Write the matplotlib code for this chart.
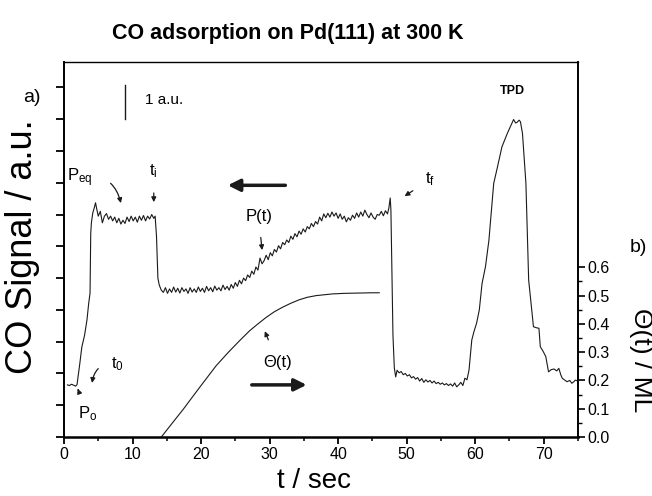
import numpy as np
import matplotlib
matplotlib.use('Agg')
import matplotlib.pyplot as plt
from matplotlib import font_manager

# CO signal (a.u., left axis) versus time (s)
t_signal = [0.5, 0.8, 1.1, 1.4, 1.7, 1.9, 2.3, 2.6, 3.0, 3.35, 3.6, 3.8, 3.85, 3.9, 4.0, 4.2, 4.4, 4.6,
            4.8, 5.0, 5.3, 5.6, 5.9, 6.2, 6.5, 6.8, 7.1, 7.4, 7.7, 8.0, 8.3, 8.6, 8.9, 9.2, 9.5,
            9.8, 10.1, 10.4, 10.7, 11.0, 11.3, 11.6, 11.9, 12.2, 12.5, 12.8, 13.1, 13.3, 13.5,
            13.7, 13.9, 14.2, 14.5, 14.8, 15.1, 15.4, 15.7, 16.0, 16.3, 16.6, 16.9, 17.2, 17.5,
            17.8, 18.1, 18.4, 18.7, 19.0, 19.3, 19.6, 19.9, 20.2, 20.5, 20.8, 21.1, 21.4, 21.7,
            22.0, 22.3, 22.6, 22.9, 23.2, 23.5, 23.8, 24.1, 24.4, 24.7, 25.0, 25.3, 25.6, 25.9,
            26.2, 26.5, 26.8, 27.1, 27.4, 27.7, 28.0, 28.3, 28.6, 28.9, 29.2, 29.5, 29.8, 30.1,
            30.4, 30.7, 31.0, 31.3, 31.6, 31.9, 32.2, 32.5, 32.8, 33.1, 33.4, 33.7, 34.0, 34.3,
            34.6, 34.9, 35.2, 35.5, 35.8, 36.1, 36.4, 36.7, 37.0, 37.3, 37.6, 37.9, 38.2, 38.5,
            38.8, 39.1, 39.4, 39.7, 40.0, 40.3, 40.6, 40.9, 41.2, 41.5, 41.8, 42.1, 42.4, 42.7,
            43.0, 43.3, 43.6, 43.9, 44.2, 44.5, 44.8, 45.1, 45.4, 45.7, 46.0, 46.3, 46.6, 46.9,
            47.2, 47.4, 47.6, 47.7, 47.85, 48.0, 48.2, 48.4, 48.6, 48.9, 49.2, 49.5, 49.8, 50.1,
            50.4, 50.7, 51.0, 51.3, 51.6, 51.9, 52.2, 52.5, 52.8, 53.1, 53.4, 53.7, 54.0, 54.3,
            54.6, 54.9, 55.2, 55.5, 55.8, 56.1, 56.4, 56.7, 57.0, 57.3, 57.6, 57.9, 58.2, 58.5,
            58.8, 59.1, 59.5, 59.8, 60.2, 60.6, 61.0, 61.5, 62.0, 62.7, 63.2, 63.9, 64.7, 65.2,
            65.6, 65.9, 66.1, 66.4, 66.6, 66.9, 67.4, 67.8, 68.0, 68.5, 68.9, 69.3, 69.5, 69.9,
            70.3, 70.7, 71.1, 71.5, 71.9, 72.2, 72.5, 72.7, 73.0, 73.4, 73.8, 74.1, 74.4, 74.6, 75.0]
co_signal = [1.64, 1.62, 1.66, 1.63, 1.60, 1.65, 2.30, 2.83, 3.20, 3.68, 4.20, 4.53, 5.40, 6.40, 6.75, 7.05, 7.20, 7.37,
             7.15, 6.95, 7.10, 6.74, 6.95, 7.03, 6.85, 6.95, 6.80, 6.92, 6.74, 6.88, 6.70, 6.82, 6.72, 6.92, 6.78,
             6.95, 6.80, 6.92, 6.76, 6.95, 6.82, 6.97, 6.80, 6.95, 6.86, 7.00, 6.88, 6.95, 6.30,
             5.00, 4.78, 4.62, 4.55, 4.70, 4.52, 4.66, 4.55, 4.72, 4.56, 4.68, 4.53, 4.70, 4.58,
             4.66, 4.52, 4.70, 4.56, 4.66, 4.55, 4.72, 4.58, 4.68, 4.55, 4.74, 4.60, 4.70, 4.57,
             4.75, 4.62, 4.70, 4.60, 4.78, 4.64, 4.74, 4.62, 4.80, 4.68, 4.86, 4.74, 4.93, 4.82,
             5.00, 4.92, 5.10, 5.02, 5.22, 5.12, 5.35, 5.25, 5.63, 5.45, 5.55, 5.72, 5.58, 5.80,
             5.70, 5.90, 5.82, 6.02, 5.92, 6.12, 6.05, 6.20, 6.12, 6.32, 6.22, 6.40, 6.30, 6.48,
             6.38, 6.55, 6.45, 6.62, 6.55, 6.72, 6.62, 6.78, 6.70, 6.92, 6.80, 7.02, 6.90, 7.04,
             6.92, 7.08, 6.95, 7.05, 6.88, 7.02, 6.85, 6.95, 6.77, 6.90, 6.82, 6.98, 6.88, 7.05,
             6.92, 7.08, 6.95, 7.14, 7.00, 6.90, 7.05, 6.92, 6.85, 7.00, 6.98, 7.10, 6.96, 7.12,
             7.02, 7.20, 7.52, 7.15, 5.20, 3.20, 2.17, 1.89, 2.10, 2.02, 2.06, 1.96, 2.00, 1.92,
             1.96, 1.86, 1.90, 1.82, 1.87, 1.76, 1.84, 1.72, 1.80, 1.73, 1.78, 1.70, 1.76, 1.68,
             1.72, 1.66, 1.70, 1.64, 1.68, 1.62, 1.67, 1.60, 1.70, 1.58, 1.64, 1.72, 1.62, 1.85,
             1.80, 2.11, 3.05, 3.30, 3.58, 4.00, 4.83, 5.36, 6.19, 7.98, 8.45, 9.13, 9.56, 9.80,
             9.99, 9.88, 9.90, 9.97, 9.92, 9.55, 7.98, 4.94, 4.52, 3.47, 3.44, 3.42, 2.84, 2.70,
             2.53, 2.05, 2.12, 2.14, 2.08, 2.16, 1.95, 1.85, 1.80, 1.74, 1.78, 1.69, 1.74, 1.79, 1.76]

# coverage (ML, right axis)
t_theta = [14.2, 15.5, 17.4, 19.0, 20.5, 22.2, 24.0, 25.6, 27.1, 28.3, 29.5, 30.7, 31.9,
           33.1, 34.3, 35.5, 36.8, 38.0, 39.2, 41.0, 43.0, 45.0, 46.0]
theta = [0.0, 0.04, 0.098, 0.15, 0.198, 0.252, 0.30, 0.34, 0.376, 0.40, 0.423, 0.443, 0.459,
         0.473, 0.485, 0.494, 0.50, 0.503, 0.506, 0.508, 0.509, 0.51, 0.51]

xticks = [0, 10, 20, 30, 40, 50, 60, 70]
theta_ticks = [0.0, 0.1, 0.2, 0.3, 0.4, 0.5, 0.6]

names = {f.name for f in font_manager.fontManager.ttflist}
font = 'Liberation Sans' if 'Liberation Sans' in names else 'DejaVu Sans'
plt.rcParams['font.family'] = [font, 'DejaVu Sans']
plt.rcParams['mathtext.fontset'] = 'custom'
plt.rcParams['mathtext.rm'] = font
plt.rcParams['mathtext.it'] = font

ink = '#1a1a1a'
fig = plt.figure(figsize=(6.52, 4.96), dpi=100)
ax = fig.add_axes([64/652, 59/496, 514/652, 375/496])
ax.plot(t_signal, co_signal, color=ink, lw=0.8)
ax.set_xlim(0, 75)
ax.set_ylim(0, 11.8)
ax.set_xticks(xticks)
ax.set_xticks(np.arange(5, 76, 10), minor=True)
ax.set_yticks(np.arange(0, 12, 1))
ax.set_yticklabels([])
ax.tick_params(axis='x', which='major', direction='out', length=5, width=1.3, labelsize=11.5, pad=2)
ax.tick_params(axis='x', which='minor', direction='out', length=3, width=1.1)
ax.tick_params(axis='y', which='major', direction='out', length=6, width=1.3)
ax.spines['left'].set_linewidth(1.4)
ax.spines['bottom'].set_linewidth(1.8)
ax.spines['top'].set_linewidth(1.0)
ax.spines['right'].set_visible(False)

ax2 = ax.twinx()
ax2.plot(t_theta, theta, color=ink, lw=0.8)
ax2.set_ylim(0, 1.326)
ax2.set_yticks(theta_ticks)
ax2.set_yticklabels(['%.1f' % v for v in theta_ticks])
ax2.set_yticks(np.arange(0.05, 0.6, 0.1), minor=True)
ax2.tick_params(axis='y', which='major', direction='out', length=5, width=1.2, labelsize=11.5, pad=2)
ax2.tick_params(axis='y', which='minor', direction='out', length=3, width=1.0)
for s in ['left', 'top', 'bottom']:
    ax2.spines[s].set_visible(False)
ax2.spines['right'].set_linewidth(1.4)

fig.text(288/652, 1 - 34/496, 'CO adsorption on Pd(111) at 300 K', ha='center', va='center',
         fontsize=15.5, fontweight='bold')
fig.text(23/652, 1 - 247/496, 'CO Signal / a.u.', rotation=90, ha='center', va='center', fontsize=26)
fig.text(314/652, 1 - 481/496, 't / sec', ha='center', va='center', fontsize=20)
fig.text(641/652, 1 - 360/496, 'Θ(t) / ML', rotation=270, ha='center', va='center', fontsize=19)
fig.text(32/652, 1 - 98/496, 'a)', ha='center', va='center', fontsize=14)
fig.text(638/652, 1 - 247/496, 'b)', ha='center', va='center', fontsize=14)

# scale bar and labels
ax.plot([8.9, 8.9], [10.0, 11.07], color=ink, lw=1.0)
ax.text(11.8, 10.6, '1 a.u.', ha='left', va='center', fontsize=11)
ax.text(65.5, 10.9, 'TPD', ha='center', va='center', fontsize=9, fontweight='bold')

small = dict(arrowstyle='-|>', color=ink, lw=0.9, mutation_scale=7)
ax.annotate(r'$\mathrm{P_{eq}}$', xy=(8.3, 7.36), xytext=(2.3, 8.15), fontsize=12, ha='center', va='center',
            arrowprops=dict(small, connectionstyle='arc3,rad=-0.5', shrinkA=12, shrinkB=0))
ax.annotate(r'$\mathrm{t_i}$', xy=(13.1, 7.39), xytext=(13.1, 8.35), fontsize=12, ha='center', va='center',
            arrowprops=dict(small, shrinkA=7, shrinkB=0))
ax.annotate('P(t)', xy=(28.9, 5.88), xytext=(28.4, 6.95), fontsize=12, ha='center', va='center',
            arrowprops=dict(small, shrinkA=8, shrinkB=0))
ax.annotate(r'$\mathrm{t_f}$', xy=(49.7, 7.58), xytext=(53.4, 8.1), fontsize=12, ha='center', va='center',
            arrowprops=dict(small, shrinkA=8, shrinkB=0))
ax.annotate(r'$\mathrm{t_0}$', xy=(4.1, 1.70), xytext=(7.8, 2.3), fontsize=12, ha='center', va='center',
            arrowprops=dict(small, connectionstyle='arc3,rad=0.5', shrinkA=8, shrinkB=0))
ax.annotate(r'$\mathrm{P_o}$', xy=(2.0, 1.52), xytext=(3.4, 0.72), fontsize=12, ha='center', va='center',
            arrowprops=dict(small, shrinkA=9, shrinkB=0))
ax.annotate('Θ(t)', xy=(29.3, 3.33), xytext=(31.2, 2.33), fontsize=12, ha='center', va='center',
            arrowprops=dict(small, shrinkA=10, shrinkB=0))

big = dict(arrowstyle='-|>', color=ink, lw=2.5, mutation_scale=18, shrinkA=0, shrinkB=0)
ax.annotate('', xy=(23.9, 7.92), xytext=(32.3, 7.92), arrowprops=big)
ax.annotate('', xy=(35.4, 1.64), xytext=(27.4, 1.64), arrowprops=big)

fig.savefig('out.png', dpi=100)
